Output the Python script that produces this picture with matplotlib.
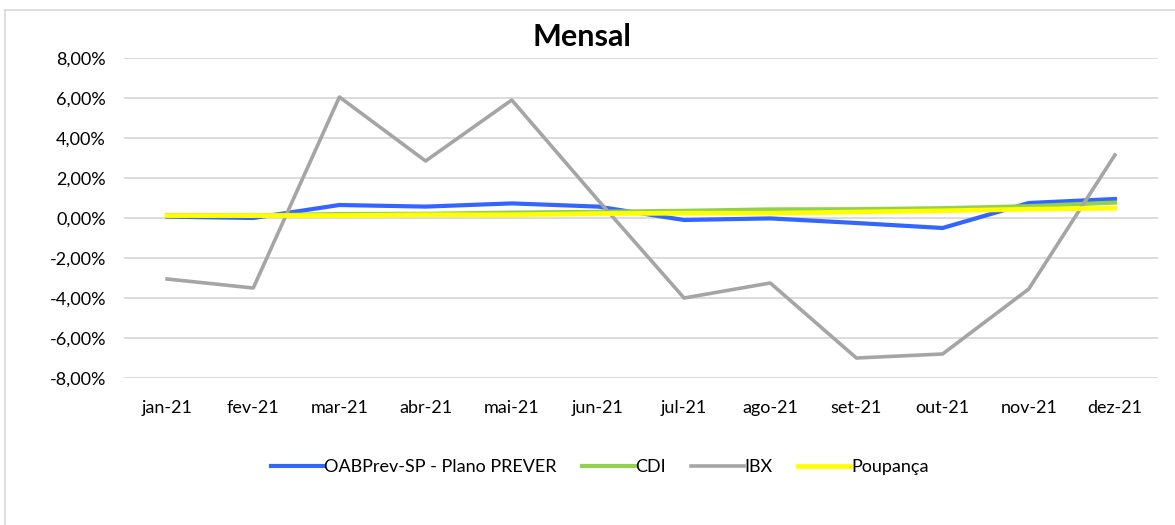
import matplotlib.pyplot as plt
from matplotlib.lines import Line2D

plt.rcParams['font.family'] = ['Lato', 'DejaVu Sans']

# Données mensais (%)
meses = ['jan-21', 'fev-21', 'mar-21', 'abr-21', 'mai-21', 'jun-21',
         'jul-21', 'ago-21', 'set-21', 'out-21', 'nov-21', 'dez-21']
oabprev = [0.07, 0.00, 0.65, 0.57, 0.73, 0.57, -0.10, -0.02, -0.25, -0.50, 0.75, 0.95]
cdi = [0.15, 0.13, 0.20, 0.21, 0.27, 0.31, 0.36, 0.43, 0.44, 0.49, 0.59, 0.77]
ibx = [-3.05, -3.50, 6.05, 2.85, 5.90, 0.90, -4.00, -3.25, -7.00, -6.80, -3.55, 3.15]
poupanca = [0.12, 0.12, 0.12, 0.16, 0.16, 0.22, 0.24, 0.24, 0.30, 0.36, 0.44, 0.49]

fig = plt.figure(figsize=(11.75, 5.25), dpi=100)
ax = fig.add_axes([124 / 1175, 1 - 378 / 525, (1158 - 124) / 1175, 320 / 525])

x = range(len(meses))
ax.plot(x, oabprev, color='#3366FF', lw=3.0, label='OABPrev-SP - Plano PREVER', zorder=3)
ax.plot(x, cdi, color='#92D050', lw=3.0, label='CDI', zorder=4)
ax.plot(x, ibx, color='#A5A5A5', lw=2.6, label='IBX', zorder=5)
ax.plot(x, poupanca, color='#FFFF00', lw=3.4, label='Poupança', zorder=6)

ax.set_xlim(-0.5, len(meses) - 0.5)
ax.set_ylim(-8, 8)
ax.set_yticks(range(-8, 9, 2))
ax.set_yticklabels([('%.2f%%' % v).replace('.', ',') for v in range(-8, 9, 2)])
ax.set_xticks(list(x))
ax.set_xticklabels(meses)
ax.tick_params(length=0, labelsize=13, colors='black')
ax.tick_params(axis='y', pad=13)
ax.tick_params(axis='x', pad=16)
ax.grid(axis='y', color='#D9D9D9', lw=1.3)
ax.set_axisbelow(True)
for s in ax.spines.values():
    s.set_visible(False)

fig.text(582 / 1175, 1 - 37 / 525, 'Mensal', ha='center', va='center',
         fontsize=22, fontweight='bold')

fig.legend(loc='center', bbox_to_anchor=(600 / 1175, 1 - 467 / 525), ncol=4,
           frameon=False, fontsize=13, handlelength=2.9, columnspacing=1.4,
           handletextpad=0.05)

# cadre du graphique
fig.add_artist(Line2D([5 / 1175, 1], [1 - 10 / 525] * 2, color='#D9D9D9', lw=1.2,
                      transform=fig.transFigure))
fig.add_artist(Line2D([5 / 1175] * 2, [0, 1 - 10 / 525], color='#D9D9D9', lw=1.2,
                      transform=fig.transFigure))

fig.savefig('out.png', dpi=100)
